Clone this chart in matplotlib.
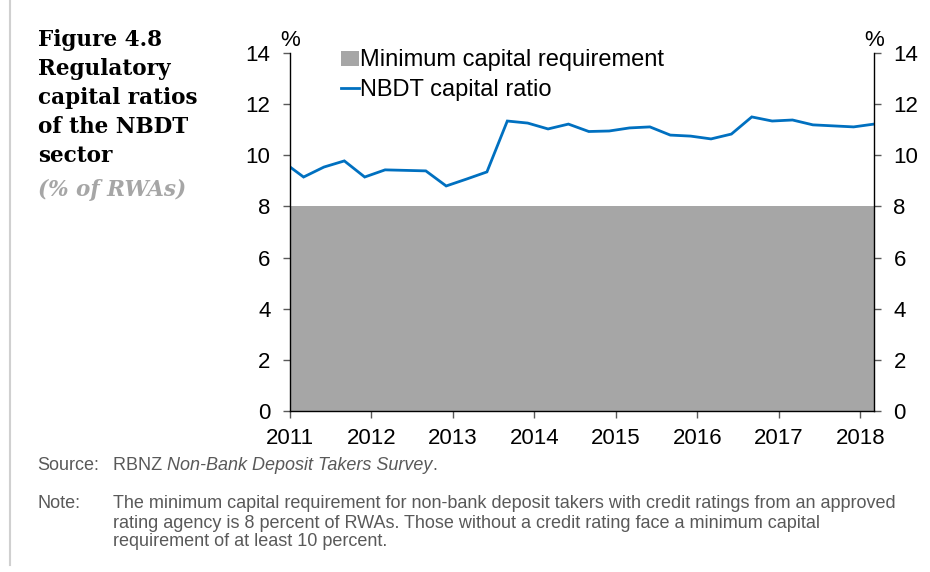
import matplotlib
matplotlib.use("Agg")
import matplotlib.pyplot as plt
from matplotlib.lines import Line2D
from matplotlib.patches import Patch

# quarter-end positions as fractional years (month index / 12), Dec 2010 to Mar 2018
quarters = [
    "2010-12", "2011-03", "2011-06", "2011-09", "2011-12",
    "2012-03", "2012-06", "2012-09", "2012-12",
    "2013-03", "2013-06", "2013-09", "2013-12",
    "2014-03", "2014-06", "2014-09", "2014-12",
    "2015-03", "2015-06", "2015-09", "2015-12",
    "2016-03", "2016-06", "2016-09", "2016-12",
    "2017-03", "2017-06", "2017-09", "2017-12",
    "2018-03",
]
capital_ratio = [
    9.74, 9.15, 9.54, 9.78, 9.15,
    9.43, 9.41, 9.39, 8.80,
    9.07, 9.35, 11.34, 11.26,
    11.03, 11.22, 10.93, 10.95,
    11.07, 11.11, 10.79, 10.75,
    10.64, 10.83, 11.50, 11.34,
    11.38, 11.19, 11.15, 11.11,
    11.22,
]
min_requirement = [8.0] * len(quarters)
year_ticks = [2011, 2012, 2013, 2014, 2015, 2016, 2017, 2018]


def to_year(q):
    y, m = q.split("-")
    return int(y) + (int(m) - 1) / 12


x = [to_year(q) for q in quarters]

plt.rcParams["font.family"] = ["Liberation Sans", "DejaVu Sans"]

fig = plt.figure(figsize=(9.3, 5.72), dpi=100)
ax = fig.add_axes([290 / 930, 1 - 411 / 572, 584 / 930, 358 / 572])

blue = "#0070C0"
grey = "#A6A6A6"

ax.fill_between(x, 0, min_requirement, color=grey, linewidth=0)
ax.plot(x, capital_ratio, color=blue, linewidth=2.0, solid_joinstyle="miter")

ax.set_xlim(2011, 2011 + 2 / 12 + 7)
ax.set_ylim(0, 14)
ax.set_xticks(year_ticks)
ax.set_yticks(range(0, 15, 2))

ax.spines["top"].set_visible(False)
for side in ("left", "right", "bottom"):
    ax.spines[side].set_linewidth(1.0)
    ax.spines[side].set_color("black")

ax.tick_params(axis="both", labelsize=16, length=5, width=1.0, color="#595959")
ax.tick_params(axis="y", which="both", left=True, right=True,
               labelleft=True, labelright=True, pad=9)
ax.tick_params(axis="x", pad=7)

ax.text(0, 1.036, "%", transform=ax.transAxes, ha="center", va="center", fontsize=16)
ax.text(1, 1.036, "%", transform=ax.transAxes, ha="center", va="center", fontsize=16)

handles = [
    Patch(facecolor=grey, edgecolor="none"),
    Line2D([0], [0], color=blue, linewidth=2.0),
]
ax.legend(handles, ["Minimum capital requirement", "NBDT capital ratio"],
          loc="upper left", bbox_to_anchor=(0.087, 1.01), frameon=False,
          fontsize=17, handlelength=0.75, handleheight=0.6, handletextpad=0.05,
          labelspacing=0.3, borderpad=0, borderaxespad=0)

# title block on the left
title_lines = ["Figure 4.8", "Regulatory", "capital ratios", "of the NBDT", "sector"]
for i, line in enumerate(title_lines):
    fig.text(38 / 930, 1 - (40 + 29 * i) / 572, line, ha="left", va="center",
             fontsize=15.5, fontweight="bold", family="DejaVu Serif", color="black")
fig.text(38 / 930, 1 - 190 / 572, "(% of RWAs)", ha="left", va="center",
         fontsize=15.5, fontweight="bold", fontstyle="italic",
         family="DejaVu Serif", color="#A6A6A6")

# source and note
note_grey = "#595959"
fs = 13
fig.text(37 / 930, 1 - 466 / 572, "Source:", fontsize=fs, color=note_grey, va="center")
rb = fig.text(113 / 930, 1 - 466 / 572, "RBNZ ", fontsize=fs, color=note_grey, va="center")
renderer = fig.canvas.get_renderer()
bb = rb.get_window_extent(renderer)
it = fig.text(bb.x1 / 930, 1 - 466 / 572, "Non-Bank Deposit Takers Survey",
              fontsize=fs, color=note_grey, va="center", fontstyle="italic")
bb2 = it.get_window_extent(renderer)
fig.text(bb2.x1 / 930, 1 - 466 / 572, ".", fontsize=fs, color=note_grey, va="center")

fig.text(37 / 930, 1 - 504 / 572, "Note:", fontsize=fs, color=note_grey, va="center")
note_lines = [
    "The minimum capital requirement for non-bank deposit takers with credit ratings from an approved",
    "rating agency is 8 percent of RWAs. Those without a credit rating face a minimum capital",
    "requirement of at least 10 percent.",
]
for i, line in enumerate(note_lines):
    fig.text(113 / 930, 1 - (504 + 19 * i) / 572, line, fontsize=fs,
             color=note_grey, va="center")

# thin rule down the left edge
fig.add_artist(Line2D([10 / 930, 10 / 930], [1 - 565 / 572, 1.0],
                      transform=fig.transFigure, color="#D0D0D0", linewidth=1.5))

fig.savefig("out.png", dpi=100)
